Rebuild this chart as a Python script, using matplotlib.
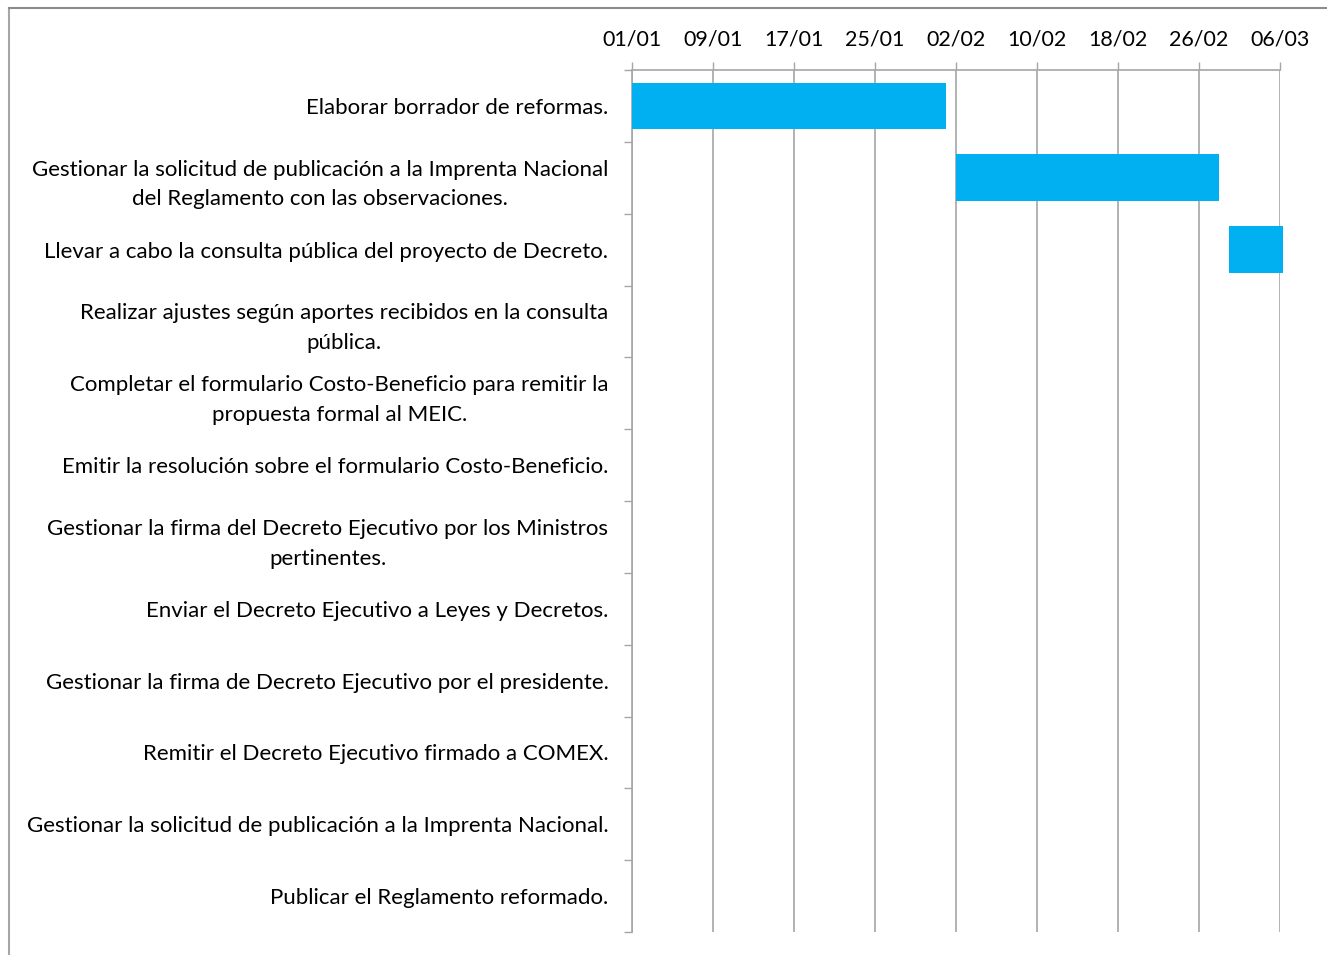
import datetime as dt
import numpy as np
import matplotlib.pyplot as plt
import matplotlib.dates as mdates
from matplotlib.lines import Line2D

plt.rcParams['font.family'] = ['Lato', 'DejaVu Sans']

# Tareas (de arriba hacia abajo)
tareas = [
    'Elaborar borrador de reformas.',
    'Gestionar la solicitud de publicación a la Imprenta Nacional\ndel Reglamento con las observaciones.',
    'Llevar a cabo la consulta pública del proyecto de Decreto.',
    'Realizar ajustes según aportes recibidos en la consulta\npública.',
    'Completar el formulario Costo-Beneficio para remitir la\npropuesta formal al MEIC.',
    'Emitir la resolución sobre el formulario Costo-Beneficio.',
    'Gestionar la firma del Decreto Ejecutivo por los Ministros\npertinentes.',
    'Enviar el Decreto Ejecutivo a Leyes y Decretos.',
    'Gestionar la firma de Decreto Ejecutivo por el presidente.',
    'Remitir el Decreto Ejecutivo firmado a COMEX.',
    'Gestionar la solicitud de publicación a la Imprenta Nacional.',
    'Publicar el Reglamento reformado.',
]
# solo las tres primeras tienen barra
inicio = ['2023-01-01', '2023-02-02', '2023-03-01']
duracion = [31, 26, 5.3]  # dias

fechas_eje = ['2023-01-01', '2023-01-09', '2023-01-17', '2023-01-25', '2023-02-02',
              '2023-02-10', '2023-02-18', '2023-02-26', '2023-03-06']

azul = '#00B0F0'
gris = '#A6A6A6'

fig = plt.figure(figsize=(13.27, 9.55), dpi=100)
ax = fig.add_axes([632/1327, 1-932/955, (1280-632)/1327, (932-70)/955])

x0 = mdates.date2num([dt.date.fromisoformat(s) for s in inicio])
y = np.arange(len(tareas))
ax.barh(y[:len(inicio)], duracion, left=x0, height=0.65, color=azul, zorder=3, clip_on=False)

ticks = mdates.date2num([dt.date.fromisoformat(s) for s in fechas_eje])
ax.set_xticks(ticks)
ax.xaxis.set_major_formatter(mdates.DateFormatter('%d/%m'))
ax.set_xlim(ticks[0], ticks[-1])
ax.xaxis.tick_top()
ax.grid(axis='x', color=gris, linewidth=1.2, zorder=0)
ax.tick_params(axis='x', which='major', length=6, width=1, color=gris, pad=9, labelsize=15.5)

ax.set_ylim(len(tareas) - 0.5, -0.5)
ax.set_yticks(y)
ax.set_yticklabels(tareas, fontsize=16, multialignment='center', linespacing=1.6)
ax.set_yticks(np.arange(len(tareas) + 1) - 0.5, minor=True)
ax.tick_params(axis='y', which='major', length=0, pad=17)
ax.tick_params(axis='y', which='minor', length=6, width=1, color=gris)

for s in ['right', 'bottom']:
    ax.spines[s].set_visible(False)
for s in ['left', 'top']:
    ax.spines[s].set_color(gris)
    ax.spines[s].set_linewidth(1.2)

# marco exterior (recortado)
fig.add_artist(Line2D([9/1327, 9/1327], [0, 1-8/955], transform=fig.transFigure, color=gris, linewidth=1.5))
fig.add_artist(Line2D([9/1327, 1], [1-8/955, 1-8/955], transform=fig.transFigure, color='#8C8C8C', linewidth=1.5))

plt.savefig('out.png', dpi=100)
